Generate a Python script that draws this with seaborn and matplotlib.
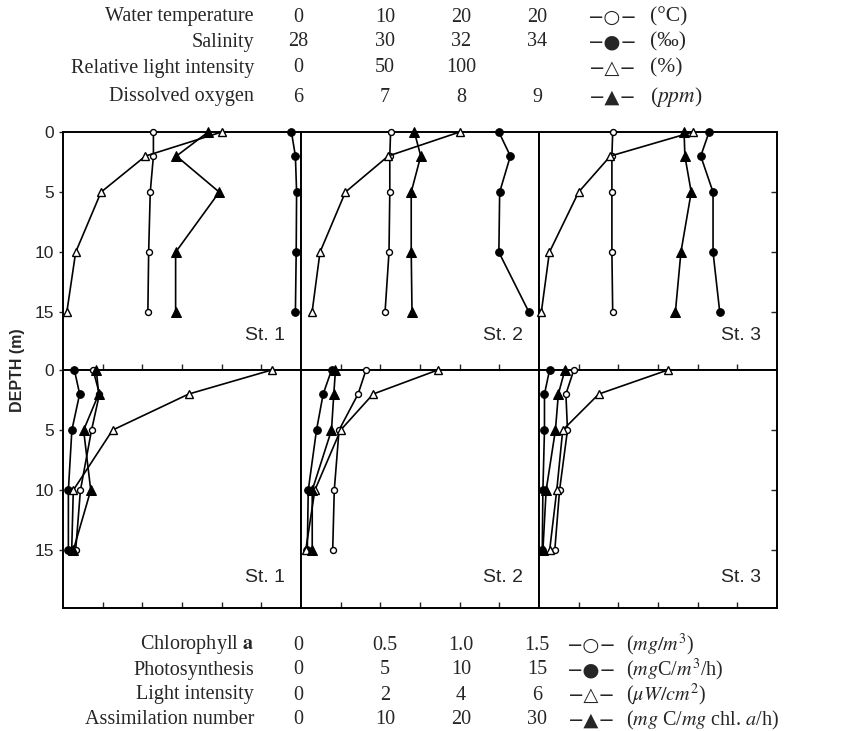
import numpy as np
import pandas as pd
import matplotlib.pyplot as plt
import seaborn as sns

depth = [0, 2, 5, 10, 15]
stations = ["St. 1", "St. 2", "St. 3"]

# upper row (hydrography)
water_temp = [[11.4, 11.4, 11.0, 10.8, 10.7],
              [11.3, 11.2, 11.2, 11.1, 10.6],
              [9.3, 9.2, 9.2, 9.2, 9.3]]
salinity = [[33.76, 33.86, 33.89, 33.88, 33.86],
            [32.99, 33.28, 33.01, 32.99, 33.75],
            [32.29, 32.08, 32.39, 32.39, 32.56]]
rel_light = [[100, 52, 24, 8, 2.4],
             [100, 55, 28, 12, 7],
             [97, 45, 25, 6.6, 1.5]]
oxygen = [[7.83, 7.43, 7.97, 7.42, 7.42],
          [7.43, 7.51, 7.39, 7.39, 7.40],
          [7.83, 7.84, 7.92, 7.79, 7.72]]

# lower row (biology)
chlorophyll = [[0.19, 0.23, 0.18, 0.11, 0.08],
               [0.41, 0.36, 0.24, 0.21, 0.20],
               [0.22, 0.17, 0.18, 0.13, 0.10]]
photosynthesis = [[0.72, 1.05, 0.56, 0.34, 0.34],
                  [1.93, 1.40, 0.98, 0.46, 0.40],
                  [0.67, 0.35, 0.35, 0.25, 0.21]]
light = [[5.26, 3.17, 1.25, 0.26, 0.22],
         [3.45, 1.82, 1.00, 0.35, 0.12],
         [3.25, 1.51, 0.60, 0.45, 0.27]]
assimilation = [[4.2, 4.5, 2.6, 3.5, 1.3],
                [4.35, 4.14, 3.85, 1.42, 1.42],
                [3.27, 2.45, 2.08, 0.91, 0.50]]

# header / footer scale tables
top_names = ["Water temperature", "Salinity", "Relative light intensity", "Dissolved oxygen"]
top_scales = [["0", "10", "20", "20"], ["28", "30", "32", "34"], ["0", "50", "100", ""], ["6", "7", "8", "9"]]
symbols = ["\u2212\u25cb\u2212", "\u2212\u25cf\u2212", "\u2212\u25b3\u2212", "\u2212\u25b2\u2212"]
top_units = ["(°C)", "(‰)", "(%)", "($ppm$)"]
bot_names = ["Chlorophyll $\\mathbf{a}$", "Photosynthesis", "Light intensity", "Assimilation number"]
bot_scales = [["0", "0.5", "1.0", "1.5"], ["0", "5", "10", "15"], ["0", "2", "4", "6"], ["0", "10", "20", "30"]]
bot_units = ["($mg/m^3$)", "($mg$C/$m^3$/h)", "($\\mu W/cm^2$)", "($mg$ C/$mg$ chl. $a$/h)"]

sns.set_style("ticks")
plt.rcParams["font.family"] = ["Liberation Serif", "DejaVu Serif"]
plt.rcParams["mathtext.fontset"] = "stix"

open_c = dict(marker="o", markersize=4.3, markerfacecolor="white", markeredgecolor="black", markeredgewidth=1)
fill_c = dict(marker="o", markersize=5.5, markerfacecolor="black", markeredgecolor="black")
open_t = dict(marker="^", markersize=6, markerfacecolor="white", markeredgecolor="black", markeredgewidth=1)
fill_t = dict(marker="^", markersize=6.5, markerfacecolor="black", markeredgecolor="black")

YMAX = 19.8


def profile(ax, values, lim, style):
    tw = ax.twiny()
    df = pd.DataFrame({"v": values, "depth": depth})
    sns.lineplot(data=df, x="v", y="depth", sort=False, estimator=None, ax=tw,
                 color="black", linewidth=1.2, clip_on=False, zorder=3, **style)
    tw.set_xlim(*lim)
    tw.set_ylim(YMAX, 0)
    tw.axis("off")


fig, axes = plt.subplots(2, 3, figsize=(8.5, 7.31), dpi=100)
fig.subplots_adjust(left=0.0741, right=0.914, top=0.8194, bottom=0.1683, wspace=0, hspace=0)

for i in range(3):
    top = axes[0, i]
    bot = axes[1, i]
    top.set_xlim(0, 30)
    bot.set_xlim(0, 1.5)
    for ax, tks in ((top, np.arange(5, 30, 5)), (bot, np.arange(0.25, 1.5, 0.25))):
        ax.set_ylim(YMAX, 0)
        ax.set_xticks(tks)
        ax.set_xticklabels([])
        ax.set_yticks([0, 5, 10, 15])
        ax.tick_params(axis="y", left=False, labelleft=False)
        for s in ax.spines.values():
            s.set_linewidth(1.4)
            s.set_color("black")
    top.tick_params(axis="x", bottom=False, top=True, direction="in", length=4, width=1)
    bot.tick_params(axis="x", bottom=True, top=False, direction="in", length=4, width=1)

    profile(top, water_temp[i], (0, 30), open_c)
    profile(top, salinity[i], (28, 34), fill_c)
    profile(top, rel_light[i], (0, 150), open_t)
    profile(top, oxygen[i], (6, 9), fill_t)

    profile(bot, chlorophyll[i], (0, 1.5), open_c)
    profile(bot, photosynthesis[i], (0, 15), fill_c)
    profile(bot, light[i], (0, 6), open_t)
    profile(bot, assimilation[i], (0, 30), fill_t)

    for ax, yy in ((top, 0.145), (bot, 0.13)):
        ax.text(0.935, yy, stations[i], transform=ax.transAxes, ha="right", va="center",
                fontsize=14, family="Liberation Sans", zorder=5)

for ax in axes[:, 0]:
    ax.tick_params(axis="y", left=True, labelleft=True, direction="out", length=3, width=1,
                   labelsize=12.5)
    for lab in ax.get_yticklabels():
        lab.set_family("Liberation Sans")
for ax in axes[:, 2]:
    ax.set_yticks([5, 10, 15])
    ax.tick_params(axis="y", right=True, direction="in", length=4, width=1)

fig.text(18 / 850, 1 - 370 / 731, "DEPTH (m)", rotation=90, ha="center", va="center",
         fontsize=11.5, family="Liberation Sans", fontweight="bold")

col_x = [298, 385, 461, 537]


def table(rows_y, names, scales, sym_x, unit_x, units, unit_size):
    for y, name, sc, sym, un in zip(rows_y, names, scales, symbols, units):
        yy = 1 - y / 731
        fig.text(254 / 850, yy, name, ha="right", va="center", fontsize=14.5)
        for x, v in zip(col_x, sc):
            fig.text(x / 850, yy, v, ha="center", va="center", fontsize=14.5)
        fig.text(sym_x / 850, yy, sym, ha="center", va="center", fontsize=14, family="DejaVu Sans")
        fig.text(unit_x / 850, yy, un, ha="left", va="center", fontsize=unit_size)


table([17, 42, 68, 97], top_names, top_scales, 613, 650, top_units, 15.5)
table([645, 670, 695, 720], bot_names, bot_scales, 592, 626, bot_units, 14.5)

fig.savefig("out.png", dpi=100)
